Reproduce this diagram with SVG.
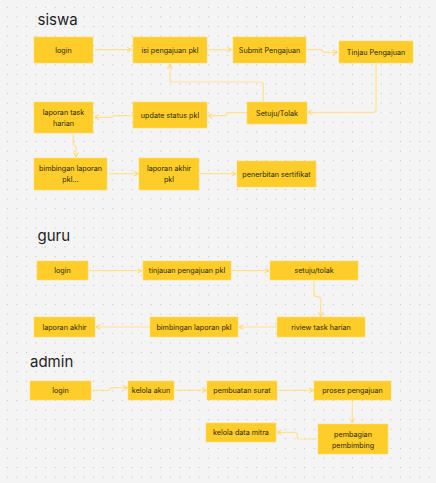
<svg xmlns="http://www.w3.org/2000/svg" width="436" height="483" viewBox="0 0 436 483">
<defs>
<pattern id="dots" x="6.8" y="6.8" width="9.59" height="9.59" patternUnits="userSpaceOnUse">
<rect x="0" y="0" width="1" height="1" fill="#bdbdbd"/>
</pattern>
<marker id="ah" viewBox="0 0 6 6" refX="5.5" refY="3" markerWidth="6" markerHeight="6" markerUnits="userSpaceOnUse" orient="auto">
<path d="M1,0.5 L5.5,3 L1,5.5" fill="none" stroke="#ffd866" stroke-width="1"/>
</marker>
<style>
.n rect{fill:#ffcd29;stroke:#ffdc6e;stroke-width:0.6}
.n text{font-family:Inter,"Noto Sans",sans-serif;font-size:7.2px;fill:#2a2614;text-anchor:middle}
.t{font-family:Inter,"Noto Sans",sans-serif;font-size:15px;fill:#1e1e1e}
#connectors path{fill:none;stroke:#ffe190;stroke-width:1.2;marker-end:url(#ah)}
</style>
</defs>
<rect width="436" height="483" fill="#f4f4f4"/>
<rect width="436" height="483" fill="url(#dots)"/>

<text class="t" x="37.5" y="25">siswa</text>
<text class="t" x="37.5" y="241">guru</text>
<text class="t" x="30" y="366.5">admin</text>

<g id="connectors">
<path d="M95,49.7 H131.5"/>
<path d="M207.5,49.7 H231.5"/>
<path d="M307,49.7 H320 Q322,49.7 322.5,51 Q323,52.3 325,52.3 H337.5"/>
<path d="M376,64 V109.5 Q376,112.3 373,112.3 H308"/>
<path d="M263.3,101 V85 Q263.3,82 260.3,82 H173 Q170,82 170,79 V64.5"/>
<path d="M246,112.7 H228 Q226.7,112.7 226.7,114 Q226.7,115.7 225,115.7 H208"/>
<path d="M133,115.7 H115 Q113.3,115.7 113.3,116.5 Q113.3,117.3 112,117.3 H94.5"/>
<path d="M73.3,134 V144 Q73.3,145.7 75,145.7 Q76,145.7 76,147.5 V157"/>
<path d="M108.5,173.7 H138.5"/>
<path d="M200,173.7 H236"/>

<path d="M89.5,270.7 H142"/>
<path d="M232,270.7 H269"/>
<path d="M314,281 V294 Q314,296.7 317,296.7 Q320.7,296.7 320.7,300 V316.5"/>
<path d="M276.5,327 H239"/>
<path d="M149.5,327 H96"/>

<path d="M92,390.3 H108.5 Q110,390.3 110,389 Q110,387.7 111.5,387.7 H127.5"/>
<path d="M175,390.3 H206.5"/>
<path d="M278,390.3 H313.5"/>
<path d="M352.3,401 V423"/>
<path d="M317,439 H299.5 Q297.3,439 297.3,437 V434.5 Q297.3,432.3 295,432.3 H277"/>
</g>

<g id="s-login" class="n"><rect x="34" y="37" width="59" height="26"/><text x="63.5" y="52.5">login</text></g>
<g id="s-isi" class="n"><rect x="133" y="37" width="74" height="26"/><text x="170" y="52.5">isi pengajuan pkl</text></g>
<g id="s-submit" class="n"><rect x="233" y="37" width="73" height="26"/><text x="269.5" y="52.5">Submit Pengajuan</text></g>
<g id="s-tinjau" class="n"><rect x="339" y="41" width="74" height="22"/><text x="376" y="54.5">Tinjau Pengajuan</text></g>
<g id="s-setuju" class="n"><rect x="247" y="102" width="60" height="22"/><text x="277" y="115.5">Setuju/Tolak</text></g>
<g id="s-update" class="n"><rect x="133" y="102" width="74" height="26"/><text x="170" y="117.5">update status pkl</text></g>
<g id="s-task" class="n"><rect x="34" y="102" width="59" height="31"/><text x="63.5" y="115">laporan task</text><text x="63.5" y="126">harian</text></g>
<g id="s-bimbingan" class="n"><rect x="34" y="158" width="73" height="32"/><text x="70.5" y="171.3">bimbingan laporan</text><text x="70.5" y="182.3">pkl...</text></g>
<g id="s-akhir" class="n"><rect x="139" y="158" width="60" height="32"/><text x="169" y="171.3">laporan akhir</text><text x="169" y="182.3">pkl</text></g>
<g id="s-sertifikat" class="n"><rect x="237" y="161" width="79" height="26"/><text x="276.5" y="176.5">penerbitan sertifikat</text></g>

<g id="g-login" class="n"><rect x="37" y="261" width="51" height="19"/><text x="62.5" y="273.2">login</text></g>
<g id="g-tinjauan" class="n"><rect x="143" y="261" width="88" height="19"/><text x="187" y="273.2">tinjauan pengajuan pkl</text></g>
<g id="g-setuju" class="n"><rect x="270" y="261" width="88" height="19"/><text x="314" y="273.2">setuju/tolak</text></g>
<g id="g-riview" class="n"><rect x="277" y="317" width="88" height="20"/><text x="321" y="329.7">riview task harian</text></g>
<g id="g-bimbingan" class="n"><rect x="150" y="317" width="88" height="20"/><text x="194" y="329.7">bimbingan laporan pkl</text></g>
<g id="g-akhir" class="n"><rect x="34" y="317" width="61" height="20"/><text x="64.5" y="329.7">laporan akhir</text></g>

<g id="a-login" class="n"><rect x="30" y="381" width="61" height="19"/><text x="60.5" y="393.2">login</text></g>
<g id="a-akun" class="n"><rect x="128" y="381" width="46" height="19"/><text x="151" y="393.2">kelola akun</text></g>
<g id="a-surat" class="n"><rect x="207" y="381" width="70" height="19"/><text x="242" y="393.2">pembuatan surat</text></g>
<g id="a-proses" class="n"><rect x="314" y="381" width="77" height="19"/><text x="352.5" y="393.2">proses pengajuan</text></g>
<g id="a-mitra" class="n"><rect x="206" y="423" width="70" height="19"/><text x="241" y="435.2">kelola data mitra</text></g>
<g id="a-pembagian" class="n"><rect x="318" y="424" width="70" height="30"/><text x="353" y="436.7">pembagian</text><text x="353" y="447.7">pembimbing</text></g>
</svg>
